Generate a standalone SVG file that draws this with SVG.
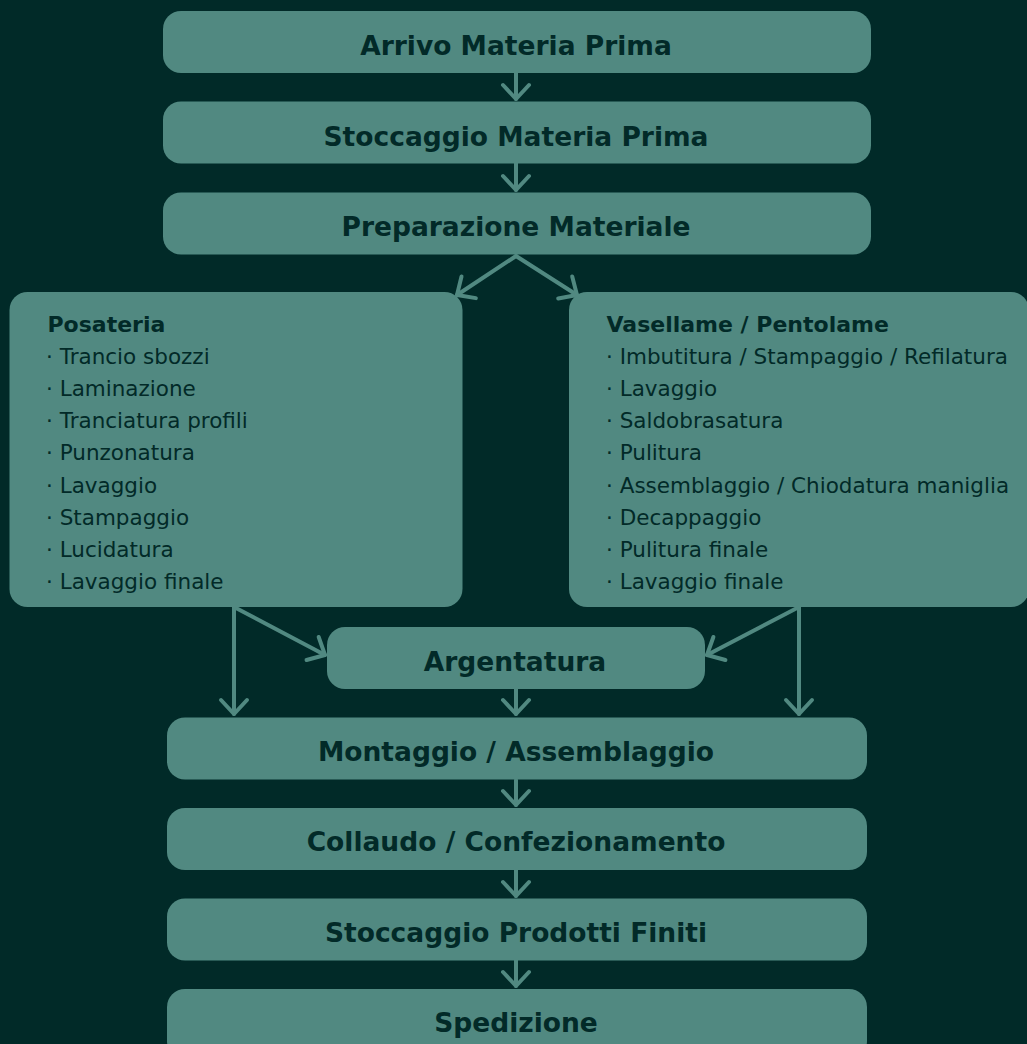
<svg xmlns="http://www.w3.org/2000/svg" width="1027" height="1044" viewBox="0 0 1027 1044">
<style>
.bg{fill:#012a28}
.box{fill:#518981}
.t{font-family:"DejaVu Sans",sans-serif;font-weight:bold;font-size:26.5px;fill:#022a28;text-anchor:middle}
.h{font-family:"DejaVu Sans",sans-serif;font-weight:bold;font-size:22px;fill:#022a28}
.li{font-family:"DejaVu Sans",sans-serif;font-weight:normal;font-size:21.5px;fill:#022a28}
.c{fill:none;stroke:#518981;stroke-width:4;stroke-linecap:round}
</style>
<defs>
<marker id="ah" markerUnits="userSpaceOnUse" orient="auto" overflow="visible" markerWidth="1" markerHeight="1" refX="0" refY="0">
<path d="M-14,-13 L0,0 L-14,13" fill="none" stroke="#518981" stroke-width="4" stroke-linecap="round" stroke-linejoin="round"/>
</marker>
</defs>
<rect class="bg" x="0" y="0" width="1027" height="1044"/>
<g id="connectors">
<line class="c" x1="516" y1="73" x2="516" y2="99" marker-end="url(#ah)"/>
<line class="c" x1="516" y1="163" x2="516" y2="190" marker-end="url(#ah)"/>
<line class="c" x1="516" y1="256" x2="457" y2="295" marker-end="url(#ah)"/>
<line class="c" x1="516" y1="256" x2="577" y2="295" marker-end="url(#ah)"/>
<line class="c" x1="234" y1="607" x2="234" y2="714" marker-end="url(#ah)"/>
<line class="c" x1="234" y1="607" x2="325" y2="655" marker-end="url(#ah)"/>
<line class="c" x1="799" y1="607" x2="799" y2="714" marker-end="url(#ah)"/>
<line class="c" x1="799" y1="607" x2="707" y2="655" marker-end="url(#ah)"/>
<line class="c" x1="516" y1="689" x2="516" y2="714" marker-end="url(#ah)"/>
<line class="c" x1="516" y1="780" x2="516" y2="805" marker-end="url(#ah)"/>
<line class="c" x1="516" y1="870" x2="516" y2="896" marker-end="url(#ah)"/>
<line class="c" x1="516" y1="960" x2="516" y2="986" marker-end="url(#ah)"/>
</g>
<g id="arrivo"><rect class="box" x="163" y="11" width="708" height="62" rx="18"/><text class="t" x="516" y="55">Arrivo Materia Prima</text></g>
<g id="stoccaggio-mp"><rect class="box" x="163" y="101.5" width="708" height="62" rx="18"/><text class="t" x="516" y="145.5">Stoccaggio Materia Prima</text></g>
<g id="preparazione"><rect class="box" x="163" y="192.5" width="708" height="62" rx="18"/><text class="t" x="516" y="236">Preparazione Materiale</text></g>
<g id="posateria">
<rect class="box" x="9.5" y="292" width="453" height="315" rx="18"/>
<text class="h" x="47.5" y="332">Posateria</text>
<text class="li" x="46" y="364">· Trancio sbozzi</text>
<text class="li" x="46" y="396.1">· Laminazione</text>
<text class="li" x="46" y="428.3">· Tranciatura profili</text>
<text class="li" x="46" y="460.4">· Punzonatura</text>
<text class="li" x="46" y="492.6">· Lavaggio</text>
<text class="li" x="46" y="524.7">· Stampaggio</text>
<text class="li" x="46" y="556.9">· Lucidatura</text>
<text class="li" x="46" y="589">· Lavaggio finale</text>
</g>
<g id="vasellame">
<rect class="box" x="569" y="292" width="460" height="315" rx="18"/>
<text class="h" x="606.5" y="332">Vasellame / Pentolame</text>
<text class="li" x="606" y="364">· Imbutitura / Stampaggio / Refilatura</text>
<text class="li" x="606" y="396.1">· Lavaggio</text>
<text class="li" x="606" y="428.3">· Saldobrasatura</text>
<text class="li" x="606" y="460.4">· Pulitura</text>
<text class="li" x="606" y="492.6">· Assemblaggio / Chiodatura maniglia</text>
<text class="li" x="606" y="524.7">· Decappaggio</text>
<text class="li" x="606" y="556.9">· Pulitura finale</text>
<text class="li" x="606" y="589">· Lavaggio finale</text>
</g>
<g id="argentatura"><rect class="box" x="327" y="627" width="378" height="62" rx="18"/><text class="t" x="515" y="671">Argentatura</text></g>
<g id="montaggio"><rect class="box" x="167" y="717.5" width="700" height="62" rx="18"/><text class="t" x="516" y="761">Montaggio / Assemblaggio</text></g>
<g id="collaudo"><rect class="box" x="167" y="808" width="700" height="62" rx="18"/><text class="t" x="516" y="851">Collaudo / Confezionamento</text></g>
<g id="stoccaggio-pf"><rect class="box" x="167" y="898.5" width="700" height="62" rx="18"/><text class="t" x="516" y="941.5">Stoccaggio Prodotti Finiti</text></g>
<g id="spedizione"><rect class="box" x="167" y="989" width="700" height="70" rx="18"/><text class="t" x="516" y="1031.5">Spedizione</text></g>
</svg>
